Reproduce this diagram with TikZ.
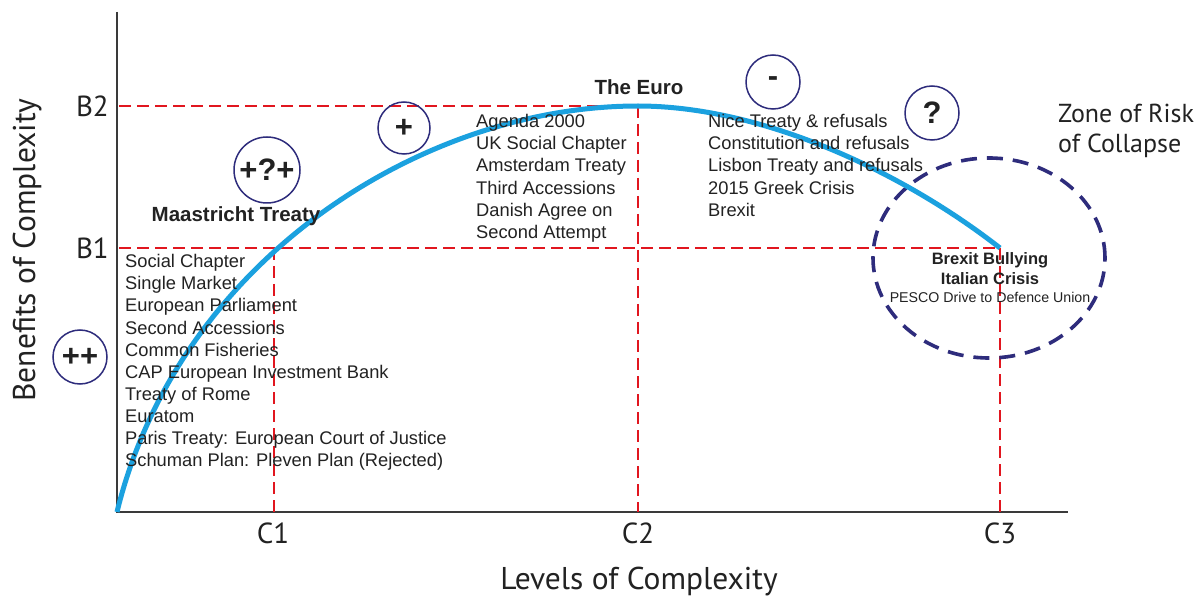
\documentclass[tikz,border=0pt]{standalone}
\usepackage{fontspec}
\setmainfont{Liberation Sans}
\newfontfamily\myr{PT Sans}
\usetikzlibrary{shapes.geometric}
\definecolor{redd}{HTML}{E1161F}
\definecolor{cblue}{HTML}{1BA1DF}
\definecolor{navy}{HTML}{2E2C7C}
\definecolor{axisgray}{HTML}{3A3A3A}
\definecolor{txtc}{HTML}{222222}
\tikzset{
  reddash/.style={draw=redd, line width=2.9pt, dash pattern=on 12pt off 6pt},
  curveline/.style={draw=cblue, line width=5pt},
  axisline/.style={draw=axisgray, line width=1.1pt},
  ring/.style={circle, draw=navy, line width=1.5pt, inner sep=0pt, text=txtc,
    font=\bfseries\fontsize{31}{31}\selectfont},
  listtxt/.style={align=left, anchor=north west, inner sep=0pt, text=txtc,
    font=\fontsize{18.3}{22.1}\selectfont},
  headtxt/.style={inner sep=0pt, text=txtc, font=\bfseries\fontsize{20.5}{22}\selectfont},
  zonetxt/.style={inner sep=0pt, text=txtc, font=\bfseries\fontsize{16.5}{19}\selectfont},
  smalltxt/.style={inner sep=0pt, text=txtc, font=\fontsize{14.2}{17}\selectfont},
  axlab/.style={inner sep=0pt, text=txtc, font=\myr\fontsize{31.5}{34}\selectfont},
  ticklab/.style={inner sep=0pt, text=txtc, font=\myr\fontsize{29}{30}\selectfont},
  risktxt/.style={inner sep=0pt, align=left, anchor=north west, text=txtc, font=\myr\fontsize{26}{30}\selectfont},
  riskzone/.style={ellipse, draw=navy, line width=3.6pt, dash pattern=on 16pt off 10pt,
    minimum width=232pt, minimum height=200pt, inner sep=0pt}
}
\begin{document}
\begin{tikzpicture}[x=1pt,y=-1pt]
\useasboundingbox[fill=white] (0,0) rectangle (1195,596);
% key points
\coordinate (O) at (117,512);
\coordinate (ytop) at (117,12);
\coordinate (xend) at (1068,512);
\coordinate (b2l) at (119,106);
\coordinate (b1l) at (119,248);
\coordinate (c1t) at (274,248);
\coordinate (c1b) at (274,512);
\coordinate (pk) at (638,106);
\coordinate (c2b) at (638,512);
\coordinate (ep) at (1000,248);
\coordinate (c3b) at (1000,512);
% axes
\draw[axisline] (ytop) -- (O) -- (xend);
% red guides
\draw[reddash] (b2l) -- (pk);
\draw[reddash] (b1l) -- (ep);
\draw[reddash] (c1t) -- (c1b);
\draw[reddash] (pk) -- (c2b);
\draw[reddash] (ep) -- (c3b);
% zone ellipse
\node[riskzone] (zone) at (989,258) {};
% curve
\draw[curveline] (O) .. controls (178,262) and (420,106) .. (pk)
  .. controls (760,106) and (900,170) .. (ep);
% axis labels
\node[axlab, rotate=90, anchor=base] (ylab) at (35,250) {Benefits of Complexity};
\node[axlab, anchor=base] (xlab) at (639,589) {Levels of Complexity};
\node[ticklab, anchor=east] (B2) at (109,106) {B2};
\node[ticklab, anchor=east] (B1) at (109,248) {B1};
\node[ticklab] (C1) at (273,533) {C1};
\node[ticklab] (C2) at (638,533) {C2};
\node[ticklab] (C3) at (1000,533) {C3};
% rings
\node[ring, minimum size=54pt] (pp) at (80,357) {++};
\node[ring, minimum size=66pt] (pqp) at (267,170) {+?+};
\node[ring, minimum size=52pt] (p) at (404,128) {+};
\node[ring, minimum size=54pt] (m) at (773,82) {-};
\node[ring, minimum size=54pt] (q) at (932,113) {?};
% headings
\node[headtxt] (maas) at (236,216) {Maastricht Treaty};
\node[headtxt] (euro) at (639,87) {The Euro};
% lists
\node[listtxt] (left) at (125,254.3) {Social Chapter\\Single Market\\European Parliament\\Second Accessions\\Common Fisheries\\CAP European Investment Bank\\Treaty of Rome\\Euratom\\Paris Treaty: European Court of Justice\\Schuman Plan: Pleven Plan (Rejected)};
\node[listtxt] (mid) at (476,114.3) {Agenda 2000\\UK Social Chapter\\Amsterdam Treaty\\Third Accessions\\Danish Agree on\\Second Attempt};
\node[listtxt] (right) at (708,114.3) {Nice Treaty \& refusals\\Constitution and refusals\\Lisbon Treaty and refusals\\2015 Greek Crisis\\Brexit};
% zone texts
\node[zonetxt] (bb) at (990,260) {Brexit Bullying};
\node[zonetxt] (ic) at (990,279) {Italian Crisis};
\node[smalltxt] (pesco) at (990,297) {PESCO Drive to Defence Union};
\node[risktxt] (risk) at (1058,104) {Zone of Risk\\of Collapse};
\end{tikzpicture}
\end{document}
